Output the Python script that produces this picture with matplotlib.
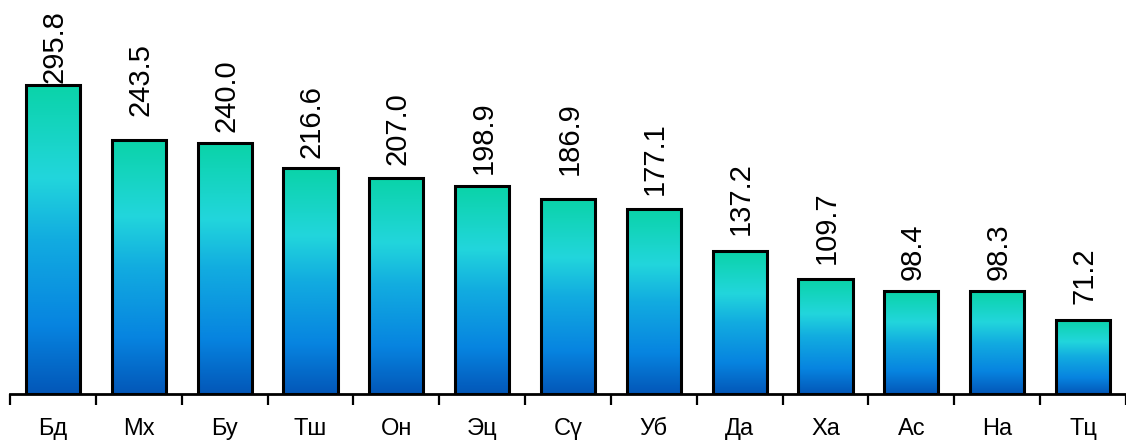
import numpy as np
import matplotlib.pyplot as plt
from matplotlib.colors import LinearSegmentedColormap

plt.rcParams['font.family'] = ['Liberation Sans', 'DejaVu Sans']

regions = ['Бд', 'Мх', 'Бу', 'Тш', 'Он', 'Эц', 'Сү', 'Уб', 'Да', 'Ха', 'Ас', 'На', 'Тц']
values = [295.8, 243.5, 240.0, 216.6, 207.0, 198.9, 186.9, 177.1, 137.2, 109.7, 98.4, 98.3, 71.2]

# gap between bar top and its label, in points (a few labels were nudged in the original)
label_gap = [1, 17, 8, 7, 9, 9, 17, 10, 11, 11, 8, 8, 11]

# bottom -> top gradient used inside every bar
grad = LinearSegmentedColormap.from_list('bars', [
    (0.00, '#0357b8'),
    (0.22, '#0784e0'),
    (0.50, '#12ace0'),
    (0.70, '#22d6dc'),
    (1.00, '#0ad3a8'),
])

fig = plt.figure(figsize=(11.26, 4.43), dpi=100)
ax = fig.add_axes([10 / 1126, 49 / 443, 1 - 10 / 1126, 394 / 443])

x = np.arange(len(regions))
width = 0.63
bars = ax.bar(x, values, width=width, facecolor='none', edgecolor='black',
              linewidth=2.2, zorder=3)

g = np.linspace(0, 1, 256).reshape(-1, 1)
for b in bars:
    x0, y0 = b.get_x(), b.get_y()
    im = ax.imshow(g, cmap=grad, origin='lower', aspect='auto',
                   extent=[x0, x0 + b.get_width(), y0, y0 + b.get_height()],
                   zorder=2, interpolation='bilinear')
    im.set_clip_path(b)

for xi, v, gap in zip(x, values, label_gap):
    ax.annotate(f'{v:.1f}', (xi, v), xytext=(1, gap), textcoords='offset points',
                rotation=90, ha='center', va='bottom', fontsize=21,
                annotation_clip=False)

ax.set_xlim(-0.5, len(regions) - 0.5)
ax.set_ylim(0, 377)

ax.set_xticks(np.arange(len(regions) + 1) - 0.5)
ax.set_xticklabels([])
ax.set_xticks(x, minor=True)
ax.set_xticklabels(regions, minor=True, fontsize=17)
ax.tick_params(axis='x', which='major', length=8, width=1.6, direction='out')
ax.tick_params(axis='x', which='minor', length=0, pad=17)
ax.set_yticks([])

for s in ['top', 'right', 'left']:
    ax.spines[s].set_visible(False)
ax.spines['bottom'].set_linewidth(2)

fig.savefig('out.png', dpi=100)
